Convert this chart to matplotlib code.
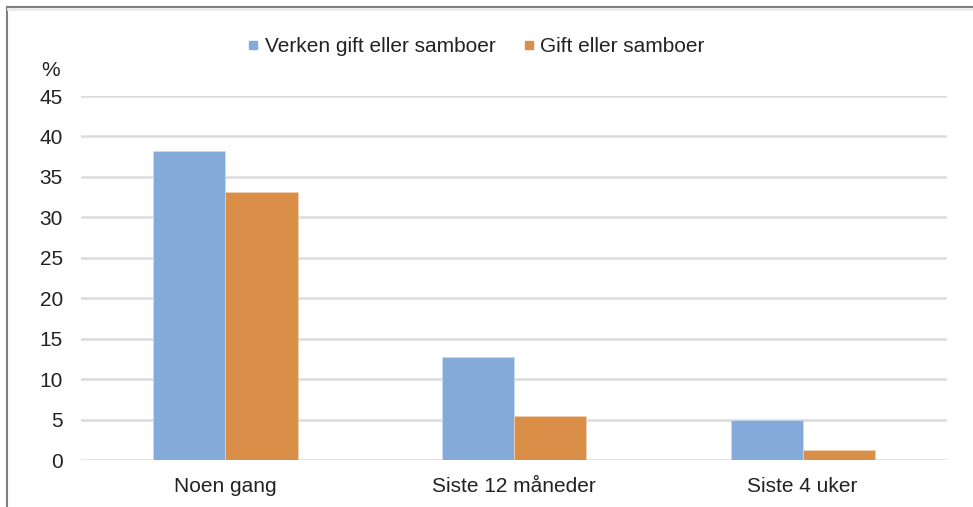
import numpy as np
import matplotlib.pyplot as plt
from matplotlib.lines import Line2D

plt.rcParams['font.family'] = ['Liberation Sans', 'DejaVu Sans']

categories = ['Noen gang', 'Siste 12 måneder', 'Siste 4 uker']
series_names = ['Verken gift eller samboer', 'Gift eller samboer']
verken = [38.2, 12.7, 4.9]
gift = [33.1, 5.5, 1.2]
yticks = [0, 5, 10, 15, 20, 25, 30, 35, 40, 45]

blue = '#84aad9'
orange = '#d98f47'
txt = '#222222'

fig = plt.figure(figsize=(9.73, 5.07), dpi=100)
ax = fig.add_axes([81 / 973, 1 - 460 / 507, (947 - 81) / 973, (460 - 96) / 507])

x = np.arange(len(categories))
w = 0.25
ax.bar(x - w / 2, verken, w, color=blue, edgecolor='#c9dbf0', linewidth=0.6, zorder=3)
ax.bar(x + w / 2, gift, w, color=orange, edgecolor='#f0cfae', linewidth=0.6, zorder=3)

ax.set_xlim(-0.5, len(categories) - 0.5)
ax.set_ylim(0, 45)
ax.set_yticks(yticks)
ax.set_xticks(x)
ax.set_xticklabels(categories)
ax.tick_params(axis='both', length=0, labelsize=15, colors=txt)
ax.tick_params(axis='y', pad=13)
ax.tick_params(axis='x', pad=12)
ax.yaxis.grid(True, color='#dcdcdc', linewidth=1.8, zorder=0)
for s in ax.spines.values():
    s.set_visible(False)

fig.text(51 / 973, 1 - 71 / 507, '%', fontsize=15, color=txt, ha='center', va='center')

handles = [Line2D([], [], marker='s', linestyle='none', markersize=6, color=c) for c in (blue, orange)]
fig.legend(handles, series_names, loc='center', bbox_to_anchor=(475 / 973, 1 - 47 / 507),
           ncol=2, frameon=False, fontsize=15, handlelength=0.8, handletextpad=0.15,
           columnspacing=1.2, labelcolor=txt)

# outer frame (only top and left visible)
fig.add_artist(Line2D([6.5 / 973, 6.5 / 973], [0, 1 - 6.5 / 507], transform=fig.transFigure,
                      color='#808080', linewidth=1.5))
fig.add_artist(Line2D([6.5 / 973, 1], [1 - 6.5 / 507, 1 - 6.5 / 507], transform=fig.transFigure,
                      color='#808080', linewidth=1.5))
fig.add_artist(Line2D([8 / 973, 1], [1 - 9 / 507, 1 - 9 / 507], transform=fig.transFigure,
                      color='#ebebeb', linewidth=2))

fig.savefig('out.png', dpi=100)
